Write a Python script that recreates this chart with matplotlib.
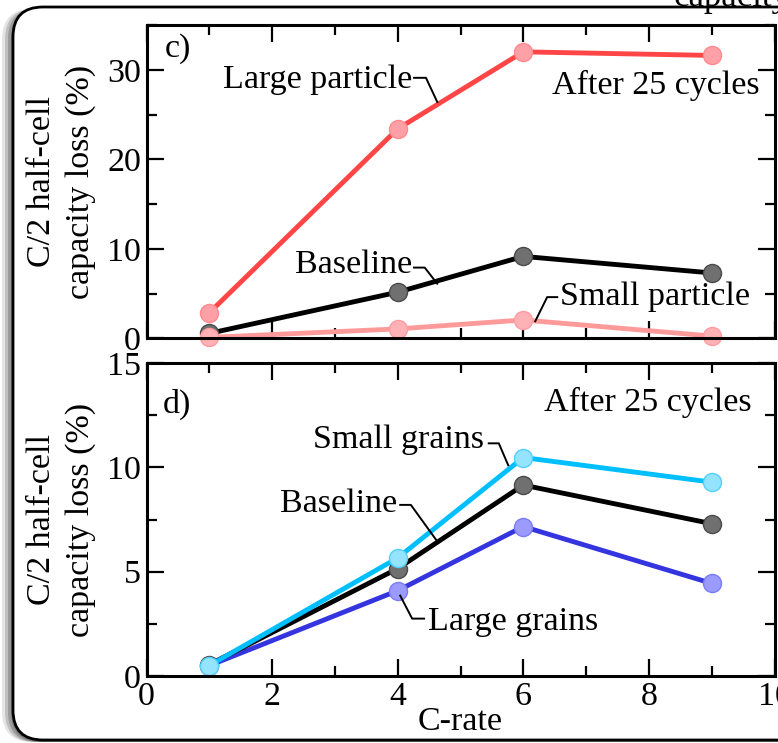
import numpy as np
import matplotlib
matplotlib.use('Agg')
import matplotlib.pyplot as plt
from matplotlib.patches import FancyBboxPatch
from matplotlib.transforms import IdentityTransform
from matplotlib.ticker import MultipleLocator

plt.rcParams['font.family'] = ['Liberation Serif', 'DejaVu Serif']

# 数据：C-rate 与容量损失 (%)
c_rate = [1, 4, 6, 9]

# c) 颗粒尺寸
large_particle = [2.85, 23.4, 32.0, 31.6]
baseline = [0.55, 5.15, 9.15, 7.3]
small_particle = [0.1, 1.05, 2.05, 0.25]

# d) 晶粒尺寸
small_grains = [0.5, 5.66, 10.47, 9.29]
large_grains = [0.5, 4.09, 7.16, 4.44]

W, H = 778, 743
fig = plt.figure(figsize=(W / 100, H / 100), dpi=100)

# 外框 + 左侧阴影（像素坐标）
for off, a in [(11, 0.15), (8, 0.25), (5, 0.35), (2, 0.45)]:
    sh = FancyBboxPatch((13 - off, 1), 800, 733, boxstyle="round,pad=0,rounding_size=30",
                        transform=IdentityTransform(), facecolor='#555555', edgecolor='none',
                        alpha=a, zorder=-3)
    fig.patches.append(sh)
box = FancyBboxPatch((13, 3), 800, 733, boxstyle="round,pad=0,rounding_size=30",
                     transform=IdentityTransform(), facecolor='white', edgecolor='black',
                     linewidth=2.0, zorder=-2)
fig.patches.append(box)

# 顶部被裁掉的标题残留
fig.text(790 / W, 1 - 6 / H, 'capacity', ha='right', va='baseline', fontsize=25)

FS = 24.5
ax1 = fig.add_axes([146.5 / W, (H - 338.3) / H, 628 / W, 313.3 / H])
ax2 = fig.add_axes([146.5 / W, (H - 676) / H, 628 / W, 313 / H])


def style_axes(ax, ymax, ymajor):
    ax.set_xlim(0, 10)
    ax.set_ylim(0, ymax)
    ax.xaxis.set_major_locator(MultipleLocator(2))
    ax.xaxis.set_minor_locator(MultipleLocator(1))
    ax.yaxis.set_major_locator(MultipleLocator(ymajor))
    ax.yaxis.set_minor_locator(MultipleLocator(ymajor / 2))
    ax.tick_params(which='both', direction='in', top=True, right=True, width=1.6,
                   labelsize=FS, pad=4)
    ax.tick_params(which='major', length=12)
    ax.tick_params(which='minor', length=7)
    for s in ax.spines.values():
        s.set_linewidth(2.2)
    ax.set_ylabel('C/2 half-cell\ncapacity loss (%)', fontsize=FS, linespacing=1.35, labelpad=8)
    ax.patch.set_facecolor('white')


def series(ax, y, lc, mfc, mec):
    ax.plot(c_rate, y, '-o', color=lc, lw=3.5, markersize=13, markerfacecolor=mfc,
            markeredgecolor=mec, markeredgewidth=1, clip_on=False)


def leader(ax, xs, ys):
    ax.plot(xs, ys, color='black', lw=1.4, clip_on=False)


# ---- c) ----
style_axes(ax1, 35, 10)
ax1.tick_params(labelbottom=False)
series(ax1, large_particle, '#ff4545', '#ffa0a6', '#ff8a90')
series(ax1, baseline, 'black', '#707070', '#4a4a4a')
series(ax1, small_particle, '#ff9a9a', '#ffb2b6', '#ff9ca2')

ax1.text(0.29, 32.4, 'c)', fontsize=FS, ha='left', va='center')
ax1.text(1.22, 28.9, 'Large particle', fontsize=FS, ha='left', va='center')
leader(ax1, [4.26, 4.45, 4.63], [29.1, 29.1, 26.4])
ax1.text(9.77, 28.2, 'After 25 cycles', fontsize=FS, ha='right', va='center')
ax1.text(2.36, 8.2, 'Baseline', fontsize=FS, ha='left', va='center')
leader(ax1, [4.26, 4.43, 4.63], [7.9, 7.9, 6.1])
ax1.text(6.58, 4.6, 'Small particle', fontsize=FS, ha='left', va='center')
leader(ax1, [6.54, 6.38, 6.19], [4.6, 4.6, 1.9])

# ---- d) ----
style_axes(ax2, 15, 5)
ax2.set_xlabel('C-rate', fontsize=FS, labelpad=-4)
series(ax2, large_grains, '#3535e0', '#9a9aff', '#7c7cf5')
series(ax2, baseline, 'black', '#707070', '#4a4a4a')
series(ax2, small_grains, '#00bfff', '#95e4ff', '#55cffa')

ax2.text(0.26, 13.0, 'd)', fontsize=FS, ha='left', va='center')
ax2.text(9.64, 13.1, 'After 25 cycles', fontsize=FS, ha='right', va='center')
ax2.text(2.65, 11.3, 'Small grains', fontsize=FS, ha='left', va='center')
leader(ax2, [5.45, 5.61, 5.76], [11.15, 11.15, 10.1])
ax2.text(2.13, 8.25, 'Baseline', fontsize=FS, ha='left', va='center')
leader(ax2, [4.04, 4.21, 4.63], [8.2, 8.2, 6.45])
ax2.text(4.48, 2.6, 'Large grains', fontsize=FS, ha='left', va='center')
leader(ax2, [4.04, 4.23, 4.42], [3.85, 2.75, 2.75])

fig.savefig('out.png', dpi=100)
